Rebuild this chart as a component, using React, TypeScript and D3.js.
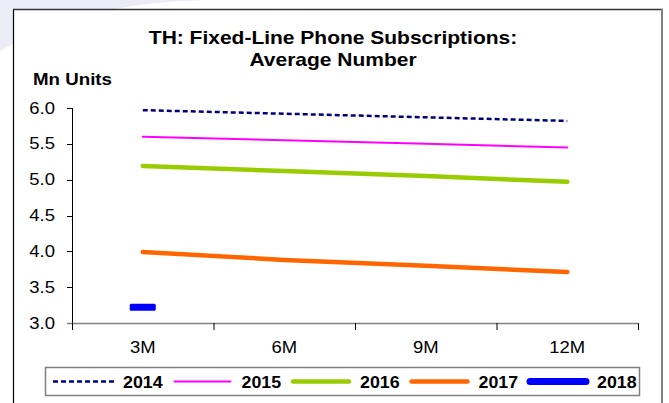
import * as d3 from "d3";
import { useEffect, useRef } from "react";

const width = 669;
const height = 403;

const categories = ["3M", "6M", "9M", "12M"];
const yTicks = [3.0, 3.5, 4.0, 4.5, 5.0, 5.5, 6.0];

const values2014 = [5.97, 5.92, 5.87, 5.82];
const values2015 = [5.6, 5.55, 5.5, 5.45];
const values2016 = [5.19, 5.12, 5.05, 4.97];
const values2017 = [3.99, 3.88, 3.8, 3.71];
const values2018 = [3.22];

const title = ["TH: Fixed-Line Phone Subscriptions:", "Average Number"];
const yUnit = "Mn Units";

const series = [
  { name: "2014", values: values2014, color: "#000080", width: 2.5, dash: "5,3" },
  { name: "2015", values: values2015, color: "#FF00FF", width: 2, dash: null },
  { name: "2016", values: values2016, color: "#99CC00", width: 4.5, dash: null },
  { name: "2017", values: values2017, color: "#FF6600", width: 4.5, dash: null },
  { name: "2018", values: values2018, color: "#0000FF", width: 7, dash: null },
];

const plot = { left: 72, right: 638, top: 108, bottom: 323 };
const FONT = "'Liberation Sans', Arial, Helvetica, sans-serif";

const App = () => {
  const svgRef = useRef(null);

  useEffect(() => {
    const svg = d3.select(svgRef.current);
    svg.selectAll("*").remove();

    const x = d3
      .scaleBand()
      .domain(categories)
      .range([plot.left, plot.right])
      .padding(0);
    const y = d3.scaleLinear().domain([3, 6]).range([plot.bottom, plot.top]);
    const cx = (c) => x(c) + x.bandwidth() / 2;

    // faint background in the corner
    svg
      .append("path")
      .attr("d", "M0,0 L205,0 Q80,4 13,44 L0,51 Z")
      .attr("fill", "#ECECF7");

    // chart box
    svg
      .append("rect")
      .attr("x", 13.5)
      .attr("y", 9.5)
      .attr("width", 648)
      .attr("height", 420)
      .attr("fill", "#fff");
    svg
      .append("line")
      .attr("x1", 13.5).attr("x2", 13.5).attr("y1", 9).attr("y2", height)
      .attr("stroke", "#000").attr("stroke-width", 1.2);
    svg
      .append("line")
      .attr("x1", 13).attr("x2", 663).attr("y1", 9.5).attr("y2", 9.5)
      .attr("stroke", "#333").attr("stroke-width", 1.5);
    svg
      .append("line")
      .attr("x1", 662).attr("x2", 662).attr("y1", 9).attr("y2", height)
      .attr("stroke", "#808080").attr("stroke-width", 2);

    // the source image is stretched horizontally, so text gets a scaleX
    const addText = (g, txt, tx, ty, opts) =>
      g
        .append("text")
        .attr("transform", `translate(${tx},${ty}) scale(${opts.sx},1)`)
        .attr("text-anchor", opts.anchor || "middle")
        .attr("dominant-baseline", "central")
        .attr("font-family", FONT)
        .attr("font-size", opts.size)
        .attr("font-weight", opts.bold ? "bold" : "normal")
        .attr("fill", "#000")
        .text(txt);

    // title
    addText(svg, title[0], 333, 38, { size: 17.5, bold: true, sx: 1.2 });
    addText(svg, title[1], 333, 60, { size: 17.5, bold: true, sx: 1.2 });
    addText(svg, yUnit, 33, 79, { size: 16, bold: true, anchor: "start", sx: 1.17 });

    // y axis
    const yAxis = svg.append("g");
    yAxis
      .append("line")
      .attr("x1", plot.left + 0.5).attr("x2", plot.left + 0.5)
      .attr("y1", plot.top).attr("y2", plot.bottom + 7)
      .attr("stroke", "#000").attr("stroke-width", 1);
    yTicks.forEach((t) => {
      yAxis
        .append("line")
        .attr("x1", plot.left - 5).attr("x2", plot.left)
        .attr("y1", Math.round(y(t)) + 0.5).attr("y2", Math.round(y(t)) + 0.5)
        .attr("stroke", t === 3 ? "#808080" : "#000");
      addText(yAxis, d3.format(".1f")(t), 55, y(t), { size: 16.5, anchor: "end", sx: 1.12 });
    });

    // x axis
    const xAxis = svg.append("g");
    xAxis
      .append("line")
      .attr("x1", plot.left - 5).attr("x2", plot.right)
      .attr("y1", plot.bottom + 0.5).attr("y2", plot.bottom + 0.5)
      .attr("stroke", "#808080").attr("stroke-width", 1.5);
    const bounds = categories.map((c) => x(c)).concat([plot.right]);
    bounds.forEach((b) => {
      xAxis
        .append("line")
        .attr("x1", b + 0.5).attr("x2", b + 0.5)
        .attr("y1", plot.bottom).attr("y2", plot.bottom + 7)
        .attr("stroke", "#000");
    });
    categories.forEach((c) => {
      addText(xAxis, c, cx(c), 347, { size: 16.5, sx: 1.12 });
    });

    // series lines
    const line = d3
      .line()
      .x((d, i) => cx(categories[i]))
      .y((d) => y(d));
    const g = svg.append("g");
    series.forEach((s) => {
      if (s.values.length > 1) {
        g.append("path")
          .datum(s.values)
          .attr("fill", "none")
          .attr("stroke", s.color)
          .attr("stroke-width", s.width)
          .attr("stroke-dasharray", s.dash)
          .attr("stroke-linecap", s.dash ? "butt" : "round")
          .attr("d", line);
      } else {
        // single point drawn as a short dash marker
        s.values.forEach((v, i) => {
          const px = cx(categories[i]);
          g.append("rect")
            .attr("x", px - 13)
            .attr("y", y(v) - s.width / 2)
            .attr("width", 26)
            .attr("height", s.width)
            .attr("rx", 1.5)
            .attr("fill", s.color);
        });
      }
    });

    // legend
    const legend = svg.append("g");
    legend
      .append("rect")
      .attr("x", 45.5).attr("y", 367.5)
      .attr("width", 594).attr("height", 28)
      .attr("fill", "#fff")
      .attr("stroke", "#808080").attr("stroke-width", 1.5);
    series.forEach((s, i) => {
      const lx = 53 + i * 118.5;
      legend
        .append("line")
        .attr("x1", lx + (s.dash ? 0 : 3)).attr("x2", lx + 62 - (s.dash ? 0 : 3))
        .attr("y1", 381.5).attr("y2", 381.5)
        .attr("stroke", s.color)
        .attr("stroke-width", s.width)
        .attr("stroke-dasharray", s.dash)
        .attr("stroke-linecap", s.dash ? "butt" : "round");
      addText(legend, s.name, lx + 70, 382, { size: 16.5, bold: true, anchor: "start", sx: 1.08 });
    });
  }, []);

  return (
    <svg
      ref={svgRef}
      width={width}
      height={height}
      style={{ position: "absolute", left: 0, top: 0, background: "#fff" }}
    />
  );
};

export default App;
